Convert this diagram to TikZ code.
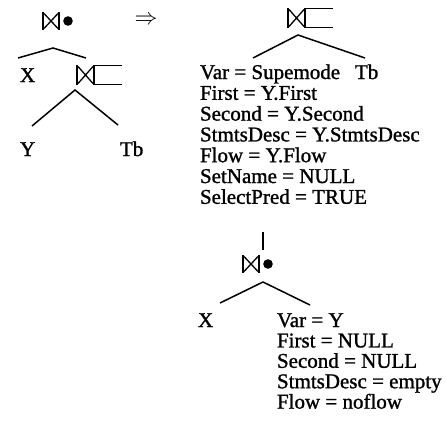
\documentclass[tikz,border=0pt]{standalone}
\usepackage{fontspec}
\setmainfont{Liberation Serif}[FakeBold=1.2]
\begin{document}
\begin{tikzpicture}[x=1pt,y=-1pt,
  symnode/.style={inner sep=0pt, outer sep=0pt, minimum width=#1, minimum height=18pt, anchor=north west},
  lbl/.style={inner sep=0pt, outer sep=0pt, anchor=base west, font=\fontsize{21}{21}\selectfont},
  tree/.style={line width=1.5pt},
  bar/.style={line width=1.7pt},
  cross/.style={line width=1.3pt},
  joindot/.pic={
    \node[symnode=30pt] (-box) at (0,0) {};
    \draw[bar] (0,0)--(0,18) (16,0)--(16,18);
    \draw[cross] (1,1.5)--(15,16.5) (1,16.5)--(15,1.5);
    \fill (25,9) circle[radius=4.8pt];
  },
  joinbox/.pic={
    \node[symnode=45pt, minimum height=20pt] (-box) at (0,0) {};
    \draw[bar] (0,0)--(0,20) (17,0)--(17,20);
    \draw[cross] (1,1.5)--(16,18.5) (1,18.5)--(16,1.5);
    \draw[line width=1.4pt] (17,0.6)--(45,0.6) (17,19.4)--(45,19.4);
  }]
\useasboundingbox (0,0) rectangle (446,420);
% left: before
\pic (j1) at (43,12) {joindot};
\node[inner sep=0pt] (arr) at (146,20) {\scalebox{2.3}{$\Rightarrow$}};
\node[lbl] (x1) at (20,82) {X};
\pic (j2) at (77,65) {joinbox};
\node[lbl] (y1) at (20,156) {Y};
\node[lbl] (tb1) at (120,156) {Tb};
\coordinate (a1) at (53,48);
\coordinate (l1) at (18,58);
\coordinate (r1) at (86,58);
\coordinate (a2) at (75,90);
\coordinate (l2) at (32,126);
\coordinate (r2) at (118,125);
\draw[tree] (l1) -- (a1) -- (r1);
\draw[tree] (l2) -- (a2) -- (r2);
% right: after
\pic (j3) at (288,8) {joinbox};
\coordinate (a3) at (298,35);
\coordinate (l3) at (253,58);
\coordinate (r3) at (365,58);
\draw[tree] (l3) -- (a3) -- (r3);
\node[lbl] (t1) at (200,79) {Var = Supemode};
\node[lbl] (tb2) at (355,79) {Tb};
\node[lbl] (t2) at (200,99.8) {First = Y.First};
\node[lbl] (t3) at (200,120.6) {Second = Y.Second};
\node[lbl] (t4) at (200,141.4) {StmtsDesc = Y.StmtsDesc};
\node[lbl] (t5) at (200,162.2) {Flow = Y.Flow};
\node[lbl] (t6) at (200,183) {SetName = NULL};
\node[lbl] (t7) at (200,203.8) {SelectPred = TRUE};
\coordinate (v1) at (263,232);
\coordinate (v2) at (263,250);
\draw[tree] (v1) -- (v2);
\pic (j4) at (243,255) {joindot};
\coordinate (a4) at (263,282);
\coordinate (l4) at (220,303);
\coordinate (r4) at (310,305);
\draw[tree] (l4) -- (a4) -- (r4);
\node[lbl] (x2) at (198,327) {X};
\node[lbl] (b1) at (277,327) {Var = Y};
\node[lbl] (b2) at (277,347.4) {First = NULL};
\node[lbl] (b3) at (277,367.8) {Second = NULL};
\node[lbl] (b4) at (277,388.2) {StmtsDesc = empty};
\node[lbl] (b5) at (277,408.6) {Flow = noflow};
\end{tikzpicture}
\end{document}
